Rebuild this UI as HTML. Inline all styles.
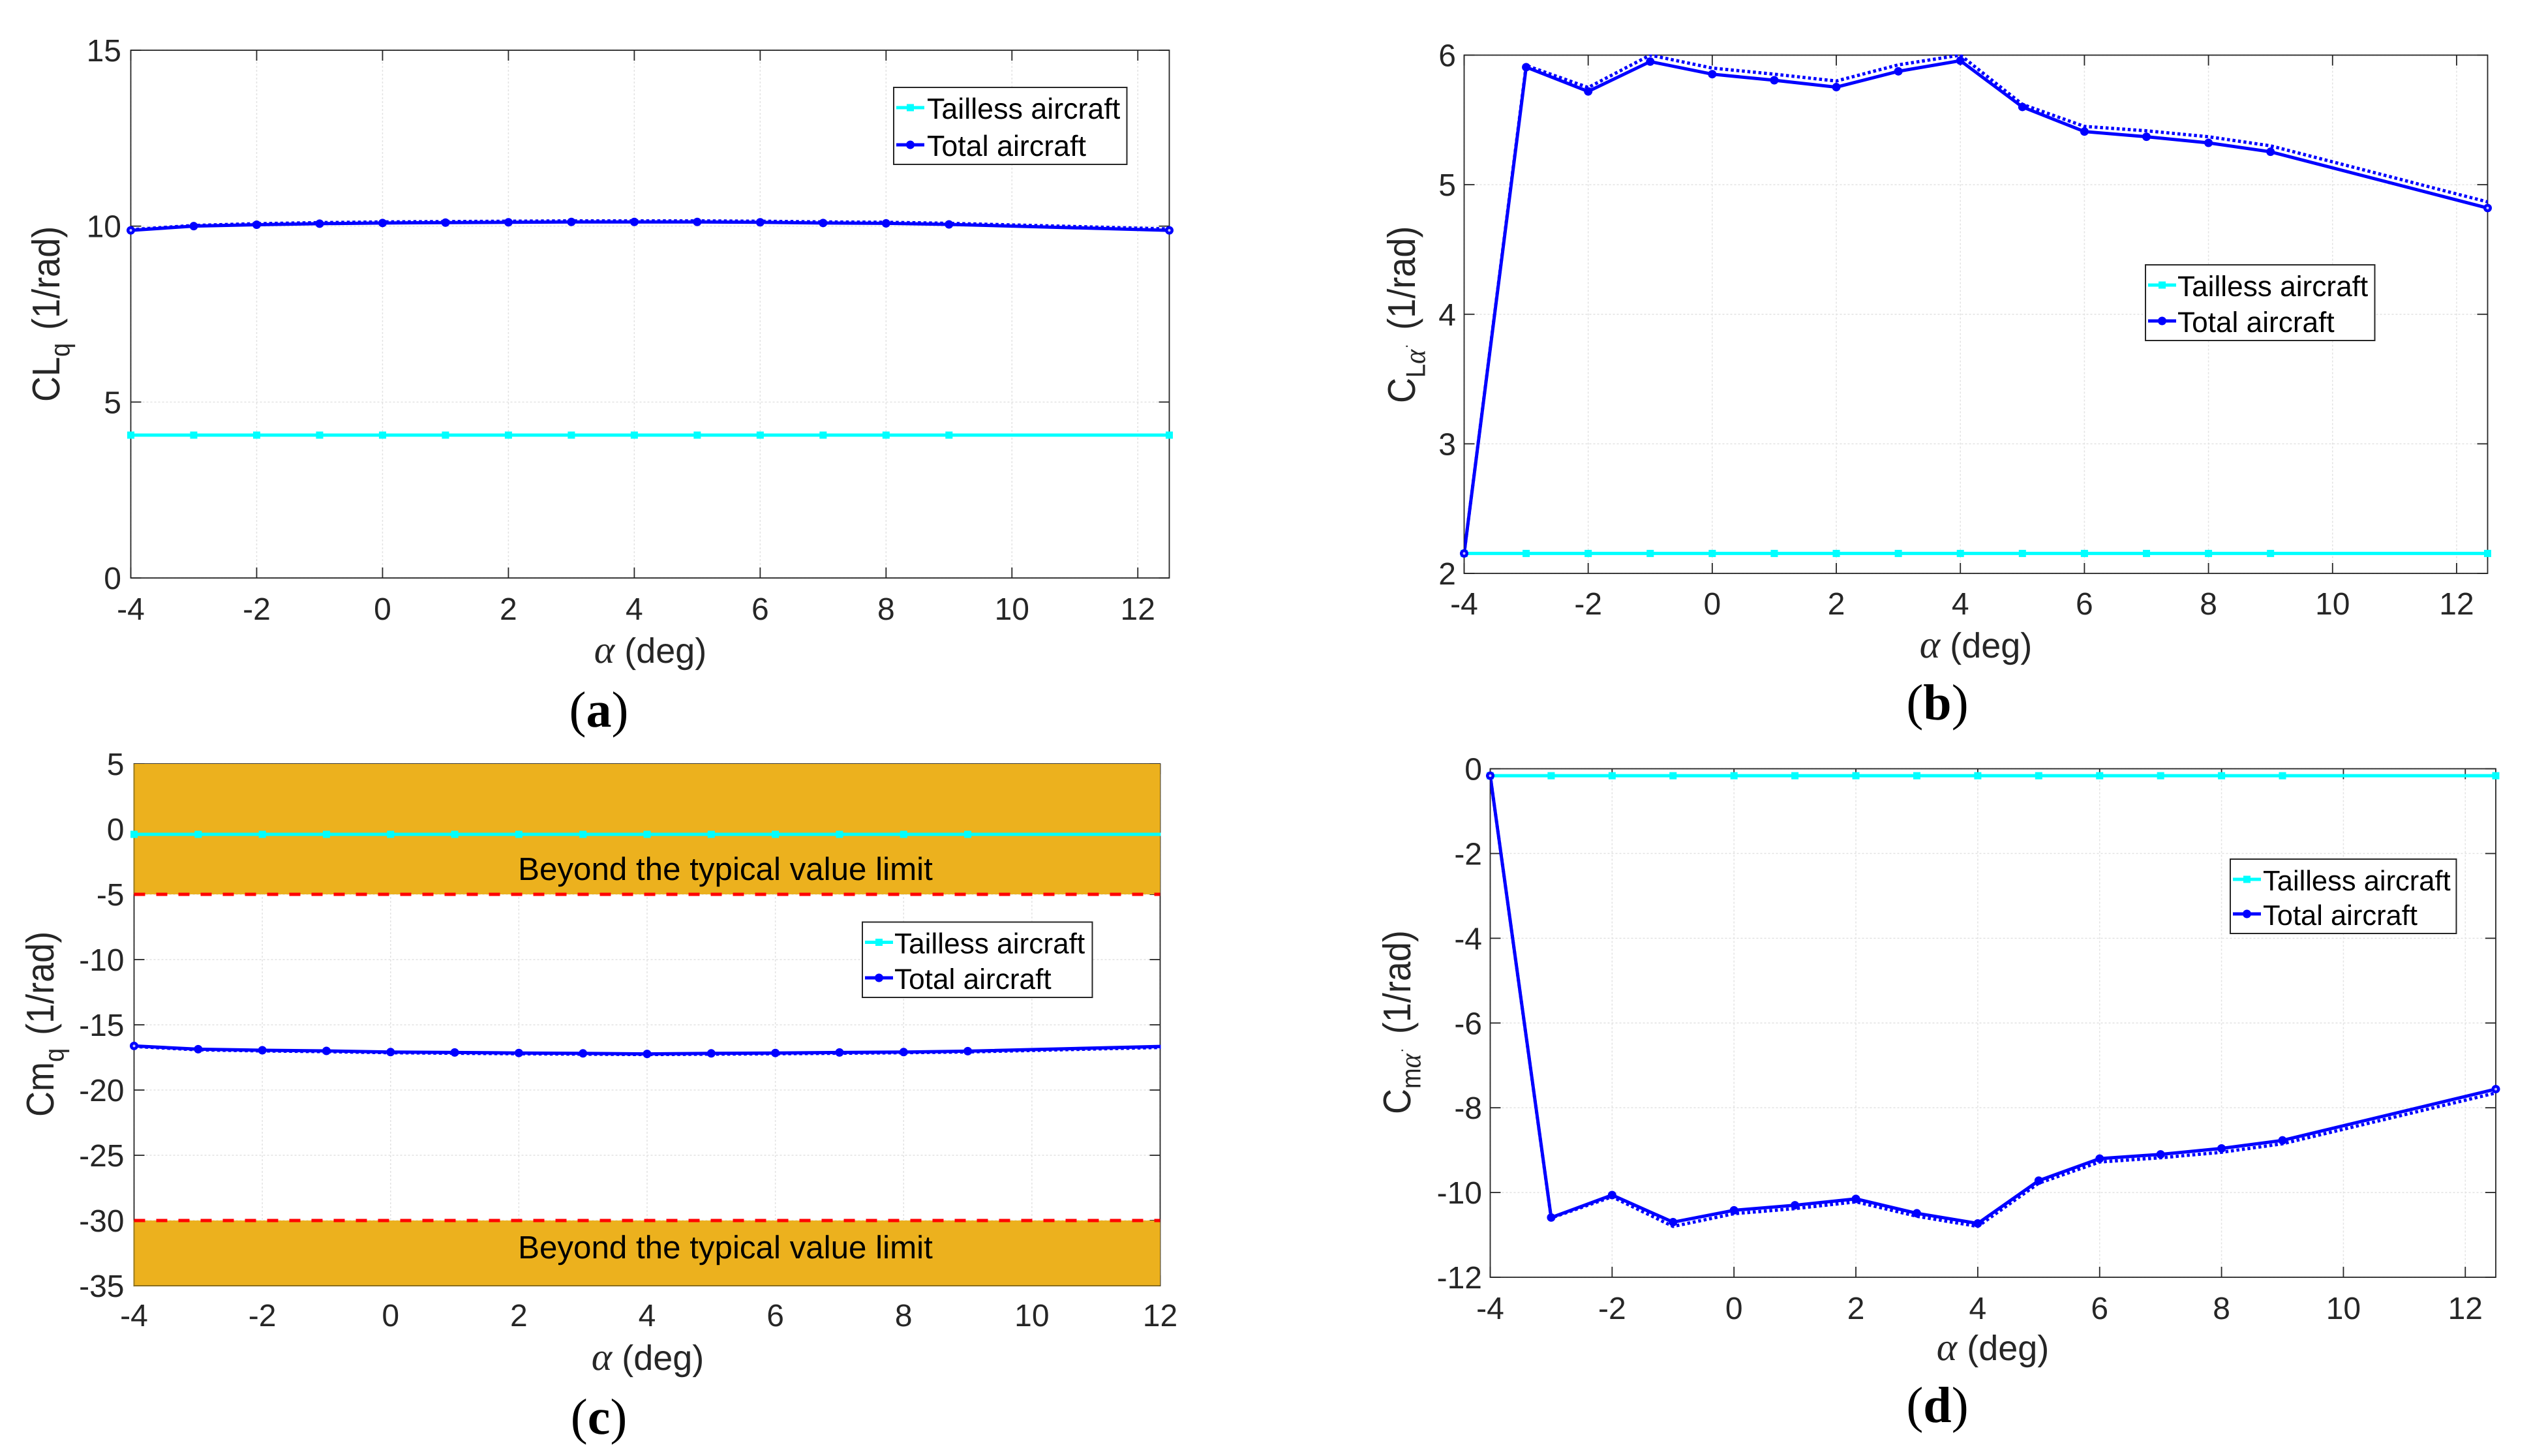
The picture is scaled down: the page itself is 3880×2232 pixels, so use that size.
<!DOCTYPE html>
<html lang="en">
<head>
<meta charset="utf-8">
<title>Aerodynamic derivatives of tailless and total aircraft</title>
<style>
html,body{margin:0;padding:0;background:#fff;}
svg{display:block;font-family:"Liberation Sans",Arial,sans-serif;text-rendering:geometricPrecision;}
.ylab{font-size:54px;fill:#262626;}
.xlab{font-size:54px;fill:#262626;text-anchor:middle;}
.gr{font-family:"Liberation Serif",serif;font-style:italic;}
.cap{font-family:"Liberation Serif",serif;font-size:78px;fill:#000;text-anchor:middle;}
</style>
</head>
<body>
<svg id="fig" xmlns="http://www.w3.org/2000/svg" width="3880" height="2232" viewBox="0 0 3880 2232">
  <rect x="0" y="0" width="3880" height="2232" fill="#ffffff"/>
  <g id="plots"></g>

  <text class="ylab" transform="translate(91,616) rotate(-90) scale(1,1.1)">CL<tspan font-size="38" dy="14">q</tspan><tspan dy="-14" dx="20">(1/rad)</tspan></text>
  <text class="ylab" transform="translate(2169,618) rotate(-90) scale(1,1.1)">C<tspan font-size="38" dy="14">L</tspan><tspan class="gr" font-size="42">α</tspan><tspan font-size="22" dy="-24" dx="2">.</tspan><tspan dy="10" dx="22">(1/rad)</tspan></text>
  <text class="ylab" transform="translate(82,1712) rotate(-90) scale(1,1.1)">Cm<tspan font-size="38" dy="14">q</tspan><tspan dy="-14" dx="20">(1/rad)</tspan></text>
  <text class="ylab" transform="translate(2162,1708) rotate(-90) scale(1,1.1)">C<tspan font-size="38" dy="14">m</tspan><tspan class="gr" font-size="42">α</tspan><tspan font-size="22" dy="-24" dx="2">.</tspan><tspan dy="10" dx="22">(1/rad)</tspan></text>

  <text class="xlab" x="997" y="1016"><tspan class="gr" font-size="60">α</tspan> (deg)</text>
  <text class="xlab" x="3029" y="1008"><tspan class="gr" font-size="60">α</tspan> (deg)</text>
  <text class="xlab" x="993" y="2100"><tspan class="gr" font-size="60">α</tspan> (deg)</text>
  <text class="xlab" x="3055" y="2085"><tspan class="gr" font-size="60">α</tspan> (deg)</text>

  <text class="cap" x="918" y="1114">(<tspan font-weight="bold">a</tspan>)</text>
  <text class="cap" x="2970" y="1103">(<tspan font-weight="bold">b</tspan>)</text>
  <text class="cap" x="918" y="2198">(<tspan font-weight="bold">c</tspan>)</text>
  <text class="cap" x="2970" y="2180">(<tspan font-weight="bold">d</tspan>)</text>
</svg>
<script>
// ---- chart data ----
const alphaDeg = [-4,-3,-2,-1,0,1,2,3,4,5,6,7,8,9,12.5];

const taillessA = [4.06,4.06,4.06,4.06,4.06,4.06,4.06,4.06,4.06,4.06,4.06,4.06,4.06,4.06,4.06];
const totalA    = [9.88,10.0,10.04,10.07,10.09,10.1,10.11,10.12,10.12,10.12,10.11,10.09,10.08,10.05,9.88];
const dottedA   = [9.9,10.02,10.07,10.1,10.12,10.13,10.14,10.15,10.15,10.15,10.14,10.12,10.11,10.08,9.92];

const taillessB = [2.154,2.154,2.154,2.154,2.154,2.154,2.154,2.154,2.154,2.154,2.154,2.154,2.154,2.154,2.154];
const totalB    = [2.154,5.907,5.72,5.95,5.853,5.806,5.753,5.875,5.957,5.6,5.41,5.37,5.323,5.254,4.82];
const dottedB   = [2.154,5.92,5.75,6.0,5.9,5.853,5.8,5.925,6.0,5.62,5.45,5.416,5.37,5.3,4.867];

const taillessC = [-0.4,-0.4,-0.4,-0.4,-0.4,-0.4,-0.4,-0.4,-0.4,-0.4,-0.4,-0.4,-0.4,-0.4,-0.4];
const totalC    = [-16.62,-16.87,-16.95,-17.0,-17.09,-17.12,-17.16,-17.19,-17.23,-17.19,-17.16,-17.12,-17.09,-17.02,-16.6];
const dottedC   = [-16.66,-16.92,-17.0,-17.06,-17.14,-17.18,-17.22,-17.25,-17.28,-17.25,-17.22,-17.18,-17.14,-17.08,-16.68];

const taillessD = [-0.164,-0.164,-0.164,-0.164,-0.164,-0.164,-0.164,-0.164,-0.164,-0.164,-0.164,-0.164,-0.164,-0.164,-0.164];
const totalD    = [-0.164,-10.59,-10.06,-10.7,-10.42,-10.3,-10.15,-10.49,-10.73,-9.72,-9.2,-9.1,-8.96,-8.77,-7.56];
const dottedD   = [-0.164,-10.6,-10.1,-10.8,-10.5,-10.38,-10.22,-10.56,-10.8,-9.78,-9.28,-9.18,-9.05,-8.85,-7.65];

const xTicksLong  = [-4,-2,0,2,4,6,8,10,12];
const yTicksA = [0,5,10,15];
const yTicksB = [2,3,4,5,6];
const yTicksC = [5,0,-5,-10,-15,-20,-25,-30,-35];
const yTicksD = [0,-2,-4,-6,-8,-10,-12];

const limitBandsC = [[-5,5],[-35,-30]];
const limitLinesC = [-5,-30];
const limitLabelsC = [["Beyond the typical value limit",-3.05],["Beyond the typical value limit",-32.05]];

const legendLabels = ["Tailless aircraft","Total aircraft"];

// ---- layout (pixels) ----
const panels = [
  {id:'a',l:200.5,r:1792.5,t:77,b:886,xMax:12.5,yMin:0,yMax:15,tail:taillessA,tot:totalA,dot:dottedA,yT:yTicksA,lblR:186,xOff:64,leg:[1370,134,357.5,118],legFont:44.8,legX:51},
  {id:'b',l:2244.5,r:3813.5,t:84.5,b:879,xMax:12.5,yMin:2,yMax:6,tail:taillessB,tot:totalB,dot:dottedB,yT:yTicksB,lblR:2232,xOff:63,leg:[3289,406,351.5,116],legFont:44.2,legX:49},
  {id:'c',l:205.5,r:1778.5,t:1171,b:1971,xMax:12,yMin:-35,yMax:5,tail:taillessC,tot:totalC,dot:dottedC,yT:yTicksC,lblR:190.5,xOff:62,leg:[1322,1413.5,352.5,115.5],legFont:44.2,legX:49,bands:limitBandsC,limits:limitLinesC,notes:limitLabelsC},
  {id:'d',l:2284.5,r:3826,t:1178.5,b:1958,xMax:12.5,yMin:-12,yMax:0,tail:taillessD,tot:totalD,dot:dottedD,yT:yTicksD,lblR:2272,xOff:64,leg:[3419,1317,346.5,114],legFont:43.5,legX:50}
];

const NS = 'http://www.w3.org/2000/svg';
const AXIS = '#262626';
const GRID = '#e2e2e2';
function mk(tag, attrs, parent){
  const e = document.createElementNS(NS, tag);
  for (const k in attrs) e.setAttribute(k, attrs[k]);
  parent.appendChild(e);
  return e;
}
const root = document.getElementById('plots');

panels.forEach(function(p){
  const X = function(v){ return p.l + (v + 4) / (p.xMax + 4) * (p.r - p.l); };
  const Y = function(v){ return p.b - (v - p.yMin) / (p.yMax - p.yMin) * (p.b - p.t); };

  const g = mk('g', {}, root);
  
  

  const clip = mk('clipPath', {id:'clip-' + p.id}, g);
  
  
  const clipRect = mk('rect', {x:p.l, y:p.t - 1, width:p.r - p.l + 1, height:p.b - p.t + 2}, clip);
  
  

  // grid
  xTicksLong.forEach(function(v){
    const gl = mk('line', {x1:X(v), x2:X(v), y1:p.t, y2:p.b, stroke:GRID, 'stroke-width':1.5, 'stroke-dasharray':'3 3'}, g);
    
    
  });
  p.yT.forEach(function(v){
    const gl = mk('line', {x1:p.l, x2:p.r, y1:Y(v), y2:Y(v), stroke:GRID, 'stroke-width':1.5, 'stroke-dasharray':'3 3'}, g);
    
    
  });

  // axes box
  const box = mk('rect', {x:p.l, y:p.t, width:p.r - p.l, height:p.b - p.t, fill:'none', stroke:AXIS, 'stroke-width':1.8}, g);
  
  

  // ticks + labels
  xTicksLong.forEach(function(v){
    const t1 = mk('line', {x1:X(v), x2:X(v), y1:p.b, y2:p.b - 16, stroke:AXIS, 'stroke-width':1.8}, g);
    
    
    const t2 = mk('line', {x1:X(v), x2:X(v), y1:p.t, y2:p.t + 16, stroke:AXIS, 'stroke-width':1.8}, g);
    
    
    const lb = mk('text', {x:X(v), y:p.b + p.xOff, 'font-size':48, fill:AXIS, 'text-anchor':'middle'}, g);
    
    
    lb.textContent = String(v);
  });
  p.yT.forEach(function(v){
    const t1 = mk('line', {x1:p.l, x2:p.l + 16, y1:Y(v), y2:Y(v), stroke:AXIS, 'stroke-width':1.8}, g);
    
    
    const t2 = mk('line', {x1:p.r, x2:p.r - 16, y1:Y(v), y2:Y(v), stroke:AXIS, 'stroke-width':1.8}, g);
    
    
    const lb = mk('text', {x:p.lblR, y:Y(v) + 17, 'font-size':48, fill:AXIS, 'text-anchor':'end'}, g);
    
    
    lb.textContent = String(v);
  });

  // limit bands
  (p.bands || []).forEach(function(b){
    const r = mk('rect', {x:p.l, y:Y(b[1]), width:p.r - p.l, height:Y(b[0]) - Y(b[1]), fill:'#ECB11E'}, g);
    
    
    const e = mk('line', {x1:p.l, x2:p.l, y1:Y(b[1]), y2:Y(b[0]), stroke:'#9a7b1e', 'stroke-width':2}, g);
    
    
  });
  if (p.bands) {
    const e2 = mk('line', {x1:p.l, x2:p.r, y1:p.b, y2:p.b, stroke:'#8a6e1c', 'stroke-width':2}, g);
    
    
  }
  (p.limits || []).forEach(function(v){
    const l = mk('line', {x1:p.l, x2:p.r, y1:Y(v), y2:Y(v), stroke:'#ff0000', 'stroke-width':5, 'stroke-dasharray':'17 17'}, g);
    
    
  });
  (p.notes || []).forEach(function(n){
    const tx = mk('text', {x:X(5.22), y:Y(n[1]) + 17, 'font-size':49.3, fill:'#000', 'text-anchor':'middle'}, g);
    
    
    tx.textContent = n[0];
  });

  const pts = function(vals){ return vals.map(function(v, i){ return X(alphaDeg[i]) + ',' + Y(v); }).join(' '); };
  const isEnd = function(i){ return i === 0 || i === alphaDeg.length - 1; };

  // tailless series
  const cy = mk('polyline', {points:pts(p.tail), fill:'none', stroke:'#00ffff', 'stroke-width':5, 'clip-path':'url(#clip-' + p.id + ')'}, g);
  
  
  p.tail.forEach(function(v, i){
    if (alphaDeg[i] > p.xMax) return;
    const m = mk('rect', {x:X(alphaDeg[i]) - 5.5, y:Y(v) - 5.5, width:11, height:11, fill:'#00ffff'}, g);
    
    
  });

  // total aircraft series (dotted + solid)
  const dl = mk('polyline', {points:pts(p.dot), fill:'none', stroke:'#0000ff', 'stroke-width':5, 'stroke-dasharray':'4.5 4', 'clip-path':'url(#clip-' + p.id + ')'}, g);
  
  
  const sl = mk('polyline', {points:pts(p.tot), fill:'none', stroke:'#0000ff', 'stroke-width':5, 'clip-path':'url(#clip-' + p.id + ')'}, g);
  
  
  p.tot.forEach(function(v, i){
    if (alphaDeg[i] > p.xMax) return;
    const c = mk('circle', {cx:X(alphaDeg[i]), cy:Y(v), r:6.5, fill:'#0000ff'}, g);
    
    
    if (isEnd(i)) {
      const h = mk('circle', {cx:X(alphaDeg[i]), cy:Y(v), r:2, fill:'#c8c8ff'}, g);
      
      
    }
  });

  // legend
  const L = p.leg;
  const lg = mk('g', {}, g);
  
  
  const lb = mk('rect', {x:L[0], y:L[1], width:L[2], height:L[3], fill:'#fff', stroke:AXIS, 'stroke-width':2}, lg);
  
  
  const rowA = L[1] + 31, rowB = L[1] + L[3] - 30;
  const k1 = mk('line', {x1:L[0] + 4, x2:L[0] + 47, y1:rowA, y2:rowA, stroke:'#00ffff', 'stroke-width':5}, lg);
  
  
  const k1m = mk('rect', {x:L[0] + 20, y:rowA - 5.5, width:11, height:11, fill:'#00ffff'}, lg);
  
  
  const t1 = mk('text', {x:L[0] + p.legX, y:rowA + 17, 'font-size':p.legFont, fill:'#000'}, lg);
  
  
  t1.textContent = legendLabels[0];
  const k2 = mk('line', {x1:L[0] + 4, x2:L[0] + 47, y1:rowB, y2:rowB, stroke:'#0000ff', 'stroke-width':5}, lg);
  
  
  const k2m = mk('circle', {cx:L[0] + 25.5, cy:rowB, r:6.5, fill:'#0000ff'}, lg);
  
  
  const t2 = mk('text', {x:L[0] + p.legX, y:rowB + 17, 'font-size':p.legFont, fill:'#000'}, lg);
  
  
  t2.textContent = legendLabels[1];
});
</script>
</body>
</html>
